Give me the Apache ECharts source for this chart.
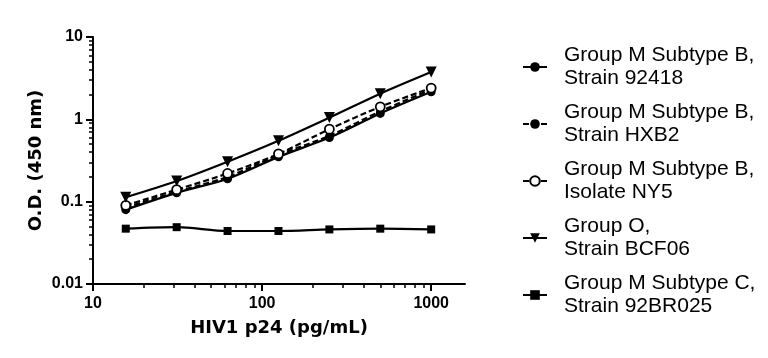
<!DOCTYPE html>
<html><head><meta charset="utf-8">
<script src="https://cdn.jsdelivr.net/npm/echarts@6/dist/echarts.min.js"></script>
<style>html,body{margin:0;padding:0;background:#fff}#c{width:768px;height:358px}</style>
</head><body><div id="c"></div>
<script>
// Concentrations (pg/mL)
const conc = [15.625, 31.25, 62.5, 125, 250, 500, 1000];
// O.D. (450 nm) readings
const s92418   = [0.080, 0.128, 0.19, 0.35, 0.60, 1.18, 2.16];
const sHXB2    = [0.085, 0.132, 0.20, 0.37, 0.63, 1.25, 2.30];
const sNY5     = [0.090, 0.140, 0.22, 0.38, 0.76, 1.42, 2.40];
const sBCF06   = [0.113, 0.178, 0.306, 0.55, 1.05, 2.05, 3.75];
const s92BR025 = [0.047, 0.049, 0.044, 0.044, 0.046, 0.047, 0.046];
const seriesNames = [
  'Group M Subtype B, Strain 92418',
  'Group M Subtype B, Strain HXB2',
  'Group M Subtype B, Isolate NY5',
  'Group O, Strain BCF06',
  'Group M Subtype C, Strain 92BR025'
];
const xMajorTicks = [10, 100, 1000];
const xMinorTicks = [20, 30, 40, 50, 60, 70, 80, 90, 200, 300, 400, 500, 600, 700, 800, 900];
const yMajorTicks = [0.01, 0.1, 1, 10];
const yMinorTicks = [0.02, 0.03, 0.04, 0.05, 0.06, 0.07, 0.08, 0.09,
                     0.2, 0.3, 0.4, 0.5, 0.6, 0.7, 0.8, 0.9,
                     2, 3, 4, 5, 6, 7, 8, 9];

const pairs = arr => conc.map((c, i) => [c, arr[i]]);
const black = '#000';
const axisFont = { fontFamily: 'DejaVu Sans', fontWeight: 'bold', fontSize: 18, color: black };
const tickFont = { fontFamily: 'Liberation Sans', fontWeight: 'bold', fontSize: 16, color: black };

function mkSeries(name, data, symbol, size, dashed, open) {
  return {
    name, type: 'line', data: pairs(data), smooth: 0.3,
    symbol, symbolSize: size, showSymbol: true,
    lineStyle: { color: black, width: 2.2, type: dashed ? [6, 3] : 'solid' },
    itemStyle: open ? { color: '#fff', borderColor: black, borderWidth: 1.8 } : { color: black, borderColor: black, borderWidth: 0 },
    emphasis: { disabled: true },
    z: 3
  };
}

const chart = echarts.init(document.getElementById('c'), null, { renderer: 'canvas' });
chart.setOption({
  animation: false,
  backgroundColor: '#fff',
  grid: { left: 93, right: 303, top: 37, bottom: 74, containLabel: false },
  legend: {
    orient: 'vertical', left: 522, top: 44, itemGap: 11, padding: 0,
    itemWidth: 24, itemHeight: 12,
    formatter: n => n.replace(', ', ',\n'),
    textStyle: { fontFamily: 'Liberation Sans', fontSize: 21, lineHeight: 23, color: black, padding: [0, 0, 0, 12] },
    selectedMode: false
  },
  xAxis: [{
    type: 'log', logBase: 10, min: 10, max: 1585,
    name: 'HIV1 p24 (pg/mL)', nameLocation: 'middle', nameGap: 35, nameTextStyle: axisFont,
    axisLine: { show: true, lineStyle: { color: black, width: 2 } },
    axisTick: { show: true, customValues: xMajorTicks, length: 7, lineStyle: { color: black, width: 2 } },
    axisLabel: { customValues: xMajorTicks, margin: 12, formatter: v => String(v), ...tickFont },
    splitLine: { show: false }, minorTick: { show: false }
  }, {
    type: 'log', logBase: 10, min: 10, max: 1585, position: 'bottom',
    axisLine: { show: false },
    axisTick: { show: true, customValues: xMinorTicks, length: 4, lineStyle: { color: black, width: 1.5 } },
    axisLabel: { show: false }, splitLine: { show: false }
  }],
  yAxis: [{
    type: 'log', logBase: 10, min: 0.01, max: 10,
    name: 'O.D. (450 nm)', nameLocation: 'middle', nameGap: 48, nameTextStyle: axisFont,
    axisLine: { show: true, lineStyle: { color: black, width: 2 } },
    axisTick: { show: true, customValues: yMajorTicks, length: 7, lineStyle: { color: black, width: 2 } },
    axisLabel: { customValues: yMajorTicks, margin: 10, formatter: v => String(v), ...tickFont },
    splitLine: { show: false }
  }, {
    type: 'log', logBase: 10, min: 0.01, max: 10, position: 'left',
    axisLine: { show: false },
    axisTick: { show: true, customValues: yMinorTicks, length: 4, lineStyle: { color: black, width: 1.5 } },
    axisLabel: { show: false }, splitLine: { show: false }
  }],
  series: [
    mkSeries(seriesNames[0], s92418, 'circle', 9, false, false),
    mkSeries(seriesNames[1], sHXB2, 'circle', 8, true, false),
    mkSeries(seriesNames[2], sNY5, 'circle', 9, true, true),
    mkSeries(seriesNames[3], sBCF06, 'triangle', 11, false, false),
    mkSeries(seriesNames[4], s92BR025, 'rect', 8, false, false)
  ].map((s, i) => i === 3 ? { ...s, symbolRotate: 180 } : s)
});
</script></body></html>
